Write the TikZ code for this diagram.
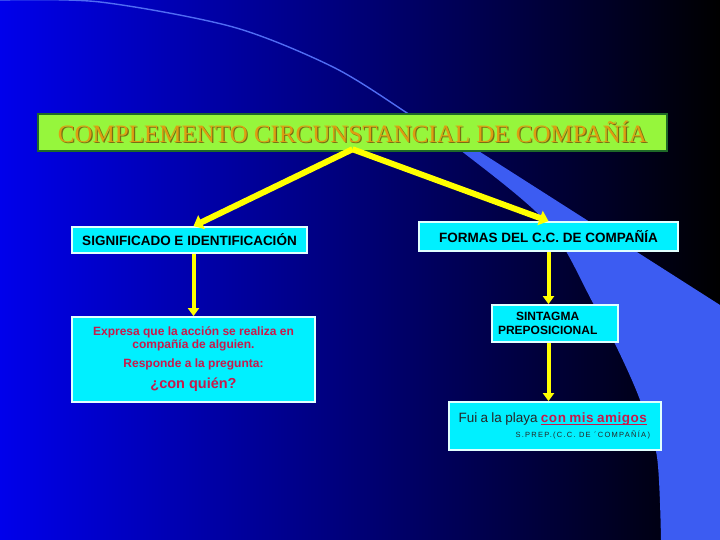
\documentclass[tikz,border=0pt]{standalone}
\usepackage{fontspec}
\setmainfont{Liberation Serif}
\newfontfamily\boxfont{Liberation Sans}
\newfontfamily\widefont[LetterSpace=4]{Liberation Sans}
\newfontfamily\tinyfont[LetterSpace=17]{Liberation Sans}
\usepackage{tikz}
\usetikzlibrary{arrows.meta,calc}
\definecolor{bgblue}{RGB}{0,0,235}
\definecolor{midblue}{RGB}{0,0,165}
\definecolor{band}{RGB}{60,92,242}
\definecolor{lime}{RGB}{150,246,60}
\definecolor{limeedge}{RGB}{30,105,40}
\definecolor{gold}{RGB}{222,158,18}
\definecolor{goldshadow}{RGB}{120,110,20}
\definecolor{aqua}{RGB}{0,240,255}
\definecolor{aquaedge}{RGB}{225,255,255}
\definecolor{crimson}{RGB}{200,25,75}
\definecolor{arrowyellow}{RGB}{255,255,0}
\newcommand\shadowtext[1]{\rlap{\hspace{1.2pt}\raisebox{-1.2pt}{\color{goldshadow}#1}}#1}
\newsavebox\ulinebox
\newcommand\underlined[1]{\sbox\ulinebox{#1}\rlap{\rule[-2pt]{\wd\ulinebox}{1.1pt}}\usebox\ulinebox}

\begin{document}
\begin{tikzpicture}[x=1pt,y=-1pt,
  titlebox/.style={draw=limeedge,line width=2.5pt,fill=lime,inner sep=0pt,
    text=gold,font=\fontsize{25}{28}\selectfont},
  cyanbox/.style={draw=aquaedge,line width=1.8pt,fill=aqua,inner sep=0pt},
  bigarrow/.style={arrowyellow,line width=6pt,-{Triangle[length=9pt,width=15pt]}},
  smallarrow/.style={arrowyellow,line width=4pt,-{Triangle[length=8pt,width=11pt]}}]
\useasboundingbox (0,0) rectangle (720,540);
\shade[left color=bgblue,middle color=midblue,right color=black] (0,0) rectangle (720,540);
\fill[band] (405,112) plot[smooth] coordinates {(405,112) (460,150) (547,223) (593,303) (618,350) (640,400) (657,457) (661,540)}
  -- (720,540) -- (720,305) -- (477,150) -- cycle;
\draw[band!90!white,line width=1.4pt] plot[smooth] coordinates {(0,0) (100,2) (233,27) (333,67) (407,113) (460,150)};

\node[titlebox,minimum width=629,minimum height=37] (title) at (352.5,132.5) {\shadowtext{COMPLEMENTO CIRCUNSTANCIAL DE COMPAÑÍA}};
\node[cyanbox,minimum width=235,minimum height=26,font=\boxfont\bfseries\fontsize{13.5}{15}\selectfont] (sig) at (189.5,240) {SIGNIFICADO E IDENTIFICACIÓN};
\node[cyanbox,minimum width=259,minimum height=29,font=\boxfont\bfseries\fontsize{13.5}{15}\selectfont] (forms) at (548.5,236.5) {FORMAS DEL C.C. DE COMPAÑÍA};
\node[cyanbox,minimum width=243,minimum height=85,align=center,text=crimson,font=\boxfont\bfseries\fontsize{12}{13}\selectfont] (expr) at (193.5,359.5)
  {Expresa que la acción se realiza en\\compañía de alguien.\\[6pt]Responde a la pregunta:\\[7pt]{\fontsize{14.5}{16}\selectfont ¿con quién?}};
\node[cyanbox,minimum height=37,text width=114,inner xsep=6,align=left,font=\boxfont\bfseries\fontsize{12}{15}\selectfont] (sint) at (555,323.5)
  {\shortstack{SINTAGMA\\[2pt]PREPOSICIONAL}};
\node[cyanbox,minimum height=48,text width=200,inner xsep=6,align=right] (fui) at (555,426)
  {\boxfont\fontsize{13.5}{15}\selectfont\color{black!85}Fui a la playa \textcolor{crimson}{\widefont\bfseries\underlined{con mis amigos}}\hspace*{8pt}\null\\[3pt]
   {\tinyfont\fontsize{7.5}{9}\selectfont\color{black!85}S.PREP.(C.C. DE ´COMPAÑÍA)}\hspace*{5pt}\null};

\draw[bigarrow] ($(title.south)+(0,-3)$) -- (expr.north |- sig.north);
\draw[bigarrow] ($(title.south)+(0,-3)$) -- (forms.north);
\draw[smallarrow] (expr.north |- sig.south) -- (expr.north);
\draw[smallarrow] (forms.south) -- (forms.south |- sint.north);
\draw[smallarrow] (forms.south |- sint.south) -- (forms.south |- fui.north);
\end{tikzpicture}
\end{document}
